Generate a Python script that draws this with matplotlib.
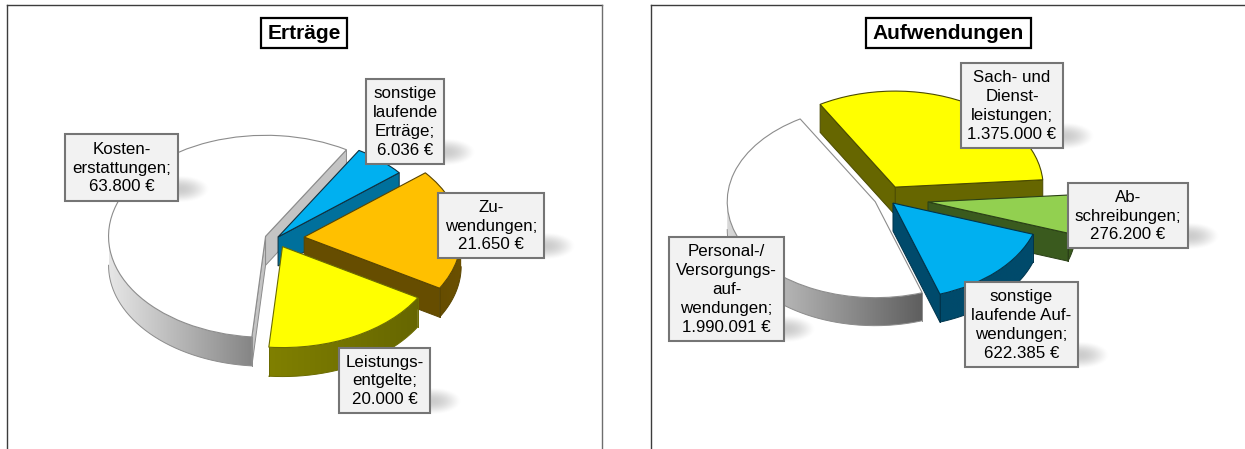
"""Ertraege / Aufwendungen: two exploded 3D-look pies with call-out boxes."""

import numpy as np
import matplotlib
matplotlib.use("Agg")
import matplotlib.pyplot as plt
from matplotlib.colors import to_rgb
from matplotlib.patches import Polygon
from matplotlib.transforms import Affine2D

plt.rcParams["font.family"] = ["Liberation Sans", "DejaVu Sans"]

W, H = 1245, 449

# ── Data ─────────────────────────────────────────────────────────────
ertraege_values = [63800, 6036, 21650, 20000]
ertraege_labels = ["Kosten-\nerstattungen;\n63.800 €",
                   "sonstige\nlaufende\nErträge;\n6.036 €",
                   "Zu-\nwendungen;\n21.650 €",
                   "Leistungs-\nentgelte;\n20.000 €"]

aufwand_values = [1990091, 1375000, 276200, 622385]
aufwand_labels = ["Personal-/\nVersorgungs-\nauf-\nwendungen;\n1.990.091 €",
                  "Sach- und\nDienst-\nleistungen;\n1.375.000 €",
                  "Ab-\nschreibungen;\n276.200 €",
                  "sonstige\nlaufende Auf-\nwendungen;\n622.385 €"]

# ── Layout / style ───────────────────────────────────────────────────
ERTRAEGE = dict(
    title="Erträge", title_box=(261, 18, 347, 48),
    frame=(7, 602),
    center=(276, 238.5), rx=157, ry=101, depth=29, start=265,
    explode=[0.07, 0.02, 0.18, 0.09],
    order=[0, 1, 2, 3],
    top=["white", "#00b0f0", "#ffc000", "#ffff00"],
    rim=[("#e6e6e6", "#858585"), ("#00709c", "#00709c"),
         ("#664d00", "#6b5000"), ("#808000", "#666600")],
    radial=["#c4c4c4", "#00709c", "#664d00", "#666600"],
    edge=["#8c8c8c", "#10303f", "#5a4500", "#6b6b00"],
    boxes=[(65, 134, 178, 201), (366, 79, 444, 164),
           (438, 193, 544, 258), (339, 348, 430, 413)],
)
AUFWAND = dict(
    title="Aufwendungen", title_box=(866, 18, 1031, 48),
    frame=(651, None),
    center=(886, 198.5), rx=148, ry=96, depth=28, start=288.5,
    explode=[0.08, 0.134, 0.286, 0.067],
    order=[1, 0, 2, 3],
    top=["white", "#ffff00", "#92d050", "#00b0f0"],
    rim=[("#d8d8d8", "#5f5f5f"), ("#666600", "#666600"),
         ("#3a5a1e", "#3a5a1e"), ("#004a6b", "#004a6b")],
    radial=["#c8c8c8", "#666600", "#3a5a1e", "#004a6b"],
    edge=["#8c8c8c", "#4a4a00", "#2a4016", "#00344c"],
    boxes=[(669, 237, 784, 341), (961, 63, 1063, 148),
           (1068, 183, 1188, 248), (965, 282, 1078, 367)],
)


# ── Helpers ──────────────────────────────────────────────────────────

def draw_shadow(ax, box):
    """Soft streak to the lower right of a call-out box."""
    x0, y0, x1, y1 = box
    gx, gy = np.meshgrid(np.linspace(-1, 1, 60), np.linspace(-1, 1, 30))
    alpha = np.clip(1 - gx ** 2 - gy ** 2, 0, 1) ** 1.5 * 0.5
    img = np.zeros((30, 60, 4))
    img[..., :3] = 0.6
    img[..., 3] = alpha
    ax.imshow(img, extent=(x1 - 28, x1 + 32, y1 + 2, y1 - 26), aspect="auto",
              interpolation="bilinear", zorder=40)


def draw_rim(ax, wedge, T, depth, colors, edge, z):
    """Front wall of one slice, filled with a left-to-right gradient."""
    all_angs = np.arange(wedge.theta1, wedge.theta2 + 0.5, 0.5)
    all_angs[-1] = min(all_angs[-1], wedge.theta2)
    angs = all_angs[np.sin(np.radians(all_angs)) <= 0.001]
    if len(angs) < 2:
        return
    cx, cy = wedge.center
    pts = T.transform(np.column_stack([cx + np.cos(np.radians(angs)),
                                       cy + np.sin(np.radians(angs))]))
    low = pts + [0, depth]
    outline = np.vstack([pts, low[::-1]])

    c0, c1 = np.array(to_rgb(colors[0])), np.array(to_rgb(colors[1]))
    ramp = c0 + (c1 - c0) * np.linspace(0, 1, 128)[:, None]
    im = ax.imshow(ramp[None, :, :],
                   extent=(pts[:, 0].min(), pts[:, 0].max(), low[:, 1].max(), pts[:, 1].min()),
                   aspect="auto", interpolation="bilinear", zorder=z)
    clip = Polygon(outline, closed=True, transform=ax.transData)
    im.set_clip_path(clip)

    ax.plot(low[:, 0], low[:, 1], color=edge, lw=0.7, zorder=z)
    # vertical end lines only where the slice really ends
    if angs[0] == wedge.theta1:
        ax.plot([pts[0, 0]] * 2, [pts[0, 1], low[0, 1]], color=edge, lw=0.7, zorder=z)
    if angs[-1] == wedge.theta2:
        ax.plot([pts[-1, 0]] * 2, [pts[-1, 1], low[-1, 1]], color=edge, lw=0.7, zorder=z)


def draw_radial(ax, wedge, T, theta, depth, color, edge, z):
    """Flat cut face between the apex and the rim at angle theta."""
    cx, cy = wedge.center
    a = np.radians(theta)
    p0, p1 = T.transform([(cx, cy), (cx + np.cos(a), cy + np.sin(a))])
    ax.fill([p0[0], p1[0], p1[0], p0[0]],
            [p0[1], p1[1], p1[1] + depth, p0[1] + depth],
            facecolor=color, edgecolor=edge, lw=0.7, zorder=z)


def draw_chart(ax, values, labels, cfg, xlim):
    wedges, _ = ax.pie(values, explode=cfg["explode"], startangle=cfg["start"],
                       counterclock=False, colors=cfg["top"])
    ax.set_aspect("auto")
    T = Affine2D().scale(cfg["rx"], -cfg["ry"]).translate(*cfg["center"])

    for rank, i in enumerate(cfg["order"]):
        w = wedges[i]
        z = 2 + rank * 3
        if np.cos(np.radians(w.theta1)) > 0:
            draw_radial(ax, w, T, w.theta1, cfg["depth"], cfg["radial"][i], cfg["edge"][i], z)
        if np.cos(np.radians(w.theta2)) < 0:
            draw_radial(ax, w, T, w.theta2, cfg["depth"], cfg["radial"][i], cfg["edge"][i], z)
        draw_rim(ax, w, T, cfg["depth"], cfg["rim"][i], cfg["edge"][i], z + 1)
        w.set_transform(T + ax.transData)
        w.set_edgecolor(cfg["edge"][i])
        w.set_linewidth(0.8)
        w.set_zorder(z + 2)

    # call-out boxes
    for box, text in zip(cfg["boxes"], labels):
        x0, y0, x1, y1 = box
        draw_shadow(ax, box)
        ax.fill([x0, x1, x1, x0], [y0, y0, y1, y1], facecolor="#f2f2f2",
                edgecolor="#757575", lw=1.5, zorder=50)
        ax.text((x0 + x1) / 2, (y0 + y1) / 2 + 0.5, text, ha="center", va="center",
                fontsize=12.2, linespacing=1.33, color="black", zorder=51)

    # title box
    x0, y0, x1, y1 = cfg["title_box"]
    ax.fill([x0, x1, x1, x0], [y0, y0, y1, y1], facecolor="white",
            edgecolor="black", lw=1.6, zorder=50)
    ax.text((x0 + x1) / 2, (y0 + y1) / 2 + 0.5, cfg["title"], ha="center", va="center",
            fontsize=15.1, fontweight="bold", zorder=51)

    # chart frame, open at the bottom of the crop
    left, right = cfg["frame"]
    ax.plot([left, left], [H + 2, 5], color="#3c3c3c", lw=1.0, zorder=1)
    ax.plot([left, right if right else W + 2], [5, 5], color="#3c3c3c", lw=1.0, zorder=1)
    if right:
        ax.plot([right, right], [5, H + 2], color="#6e6e6e", lw=1.0, zorder=1)

    ax.set_xlim(*xlim)
    ax.set_ylim(H, 0)
    ax.axis("off")


# ── Figure ───────────────────────────────────────────────────────────

fig = plt.figure(figsize=(W / 100, H / 100), dpi=100, facecolor="white")
split = 626
ax1 = fig.add_axes([0, 0, split / W, 1])
ax2 = fig.add_axes([split / W, 0, 1 - split / W, 1])

draw_chart(ax1, ertraege_values, ertraege_labels, ERTRAEGE, (0, split))
draw_chart(ax2, aufwand_values, aufwand_labels, AUFWAND, (split, W))

fig.savefig("out.png", dpi=100)
plt.close(fig)
